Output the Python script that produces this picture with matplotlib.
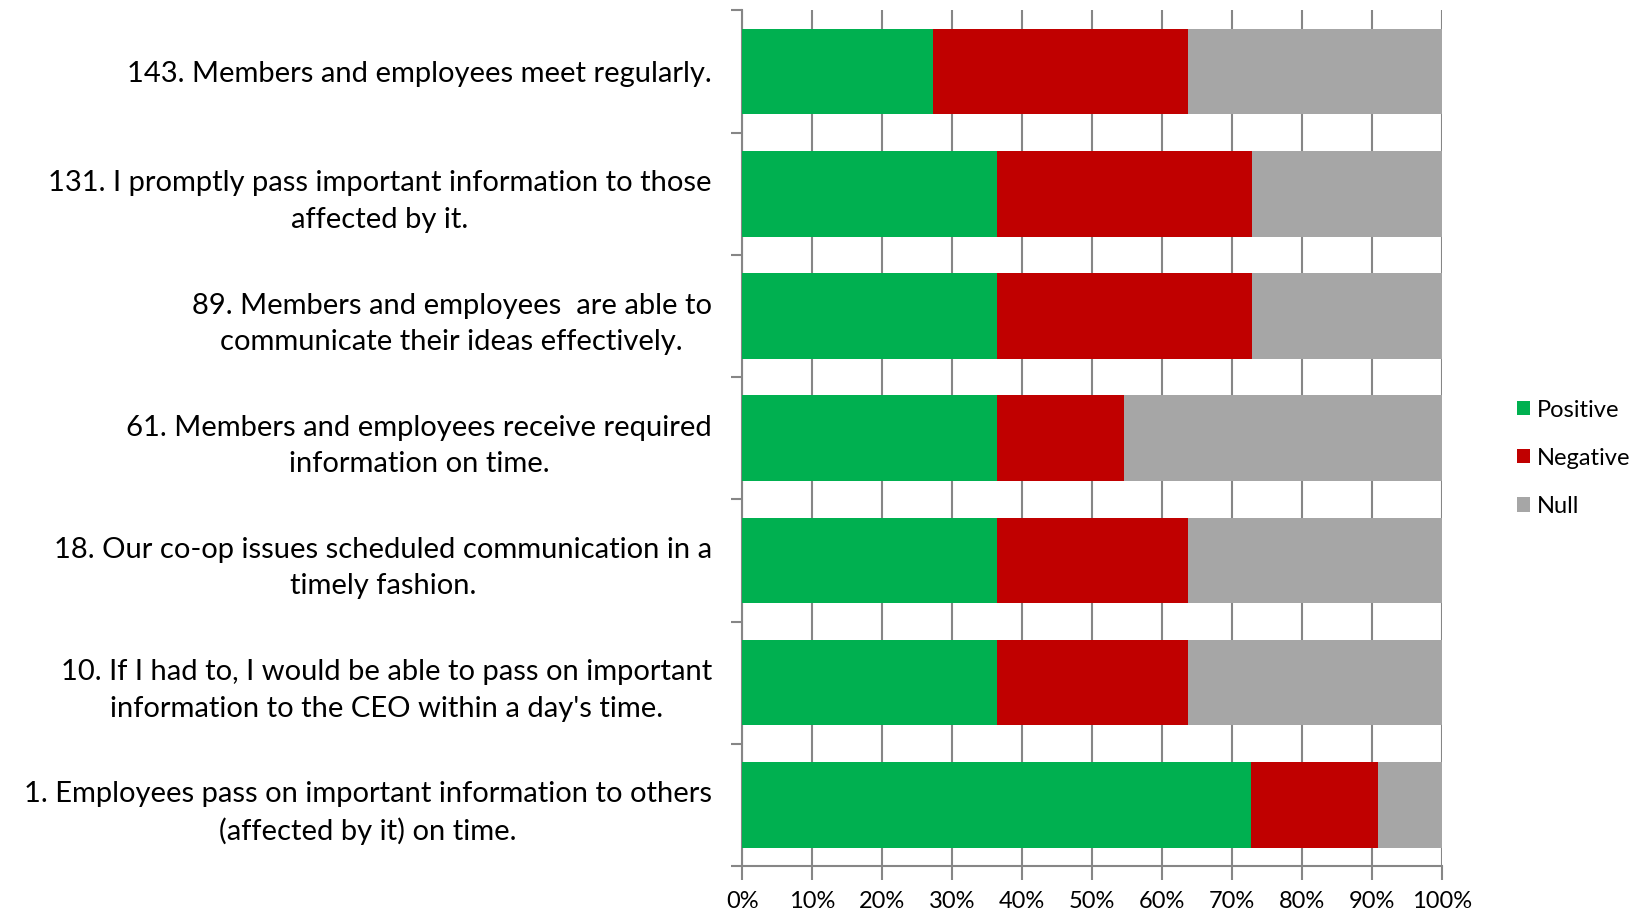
import numpy as np
import matplotlib.pyplot as plt

# 问题标签（从下到上）
questions = [
    "1. Employees pass on important information to others\n(affected by it) on time.",
    "10. If I had to, I would be able to pass on important\ninformation to the CEO within a day's time.",
    "18. Our co-op issues scheduled communication in a\ntimely fashion.",
    "61. Members and employees receive required\ninformation on time.",
    "89. Members and employees  are able to\ncommunicate their ideas effectively.",
    "131. I promptly pass important information to those\naffected by it.",
    "143. Members and employees meet regularly.",
]

# 百分比
positive = [72.7, 36.4, 36.4, 36.4, 36.4, 36.4, 27.3]
negative = [18.2, 27.3, 27.3, 18.2, 36.4, 36.4, 36.4]
null = [9.1, 36.3, 36.3, 45.4, 27.2, 27.2, 36.3]

x_ticks = list(range(0, 101, 10))
x_tick_labels = [f"{v}%" for v in x_ticks]

plt.rcParams['font.family'] = ['Lato', 'DejaVu Sans']

fig = plt.figure(figsize=(16.46, 9.11), dpi=100)
ax = fig.add_axes([0.451, 0.0494, 0.425, 0.9391])

y = np.arange(len(questions))
h = 0.7
grid_color = "#868686"

ax.barh(y, positive, height=h, color="#00B050", label="Positive", zorder=3)
ax.barh(y, negative, left=positive, height=h, color="#C00000", label="Negative", zorder=3)
left2 = np.array(positive) + np.array(negative)
ax.barh(y, null, left=left2, height=h, color="#A6A6A6", label="Null", zorder=3)

ax.set_xlim(0, 100)
ax.set_ylim(-0.5, len(questions) - 0.5)

# 网格
ax.set_xticks(x_ticks)
ax.set_xticklabels(x_tick_labels, fontsize=17)
ax.xaxis.grid(True, color=grid_color, linewidth=1.5, zorder=0)
ax.tick_params(axis='x', direction='out', length=10, width=1.5, color=grid_color, pad=8)

ax.set_yticks(y)
ax.set_yticklabels(questions, fontsize=21, multialignment='center', linespacing=1.5)
ax.set_yticks(np.arange(-0.5, len(questions), 1), minor=True)
ax.tick_params(axis='y', which='major', length=0, pad=22)
ax.tick_params(axis='y', which='minor', direction='out', length=8, width=1.5, color=grid_color)

for s in ['top', 'right']:
    ax.spines[s].set_visible(False)
for s in ['left', 'bottom']:
    ax.spines[s].set_color(grid_color)
    ax.spines[s].set_linewidth(1.5)

ax.legend(loc='center left', bbox_to_anchor=(0.916, 0.497), bbox_transform=fig.transFigure,
          frameon=False, fontsize=17,
          handlelength=0.55, handleheight=0.55, handletextpad=0.3, labelspacing=1.15,
          borderaxespad=0)

fig.savefig("out.png", dpi=100)
